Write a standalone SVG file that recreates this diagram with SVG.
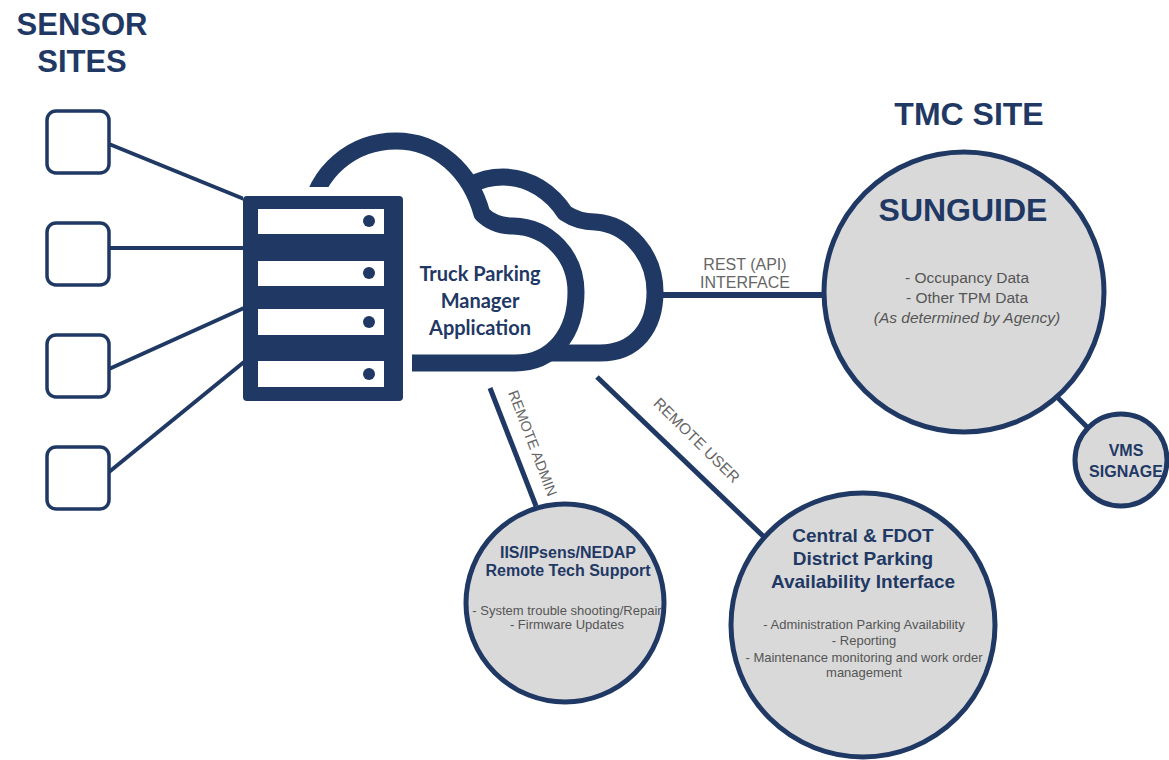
<svg xmlns="http://www.w3.org/2000/svg" width="1169" height="760" viewBox="0 0 1169 760">
<style>
.nv{fill:#1f3864}
.ln{stroke:#1f3864;fill:none;stroke-linecap:butt}
.box{fill:#fff;stroke:#1f3864;stroke-width:3.5}
.circ{fill:#d9d9d9;stroke:#1f3864;stroke-width:5}
.title{font-family:"Liberation Sans",Arial,sans-serif;font-weight:bold;fill:#1f3864;text-anchor:middle}
.lab{font-family:"Liberation Sans",Arial,sans-serif;fill:#666;text-anchor:middle}
.bul{font-family:"Liberation Sans",Arial,sans-serif;fill:#555;text-anchor:middle}
.cal{font-family:Lato,"Open Sans",sans-serif;font-weight:bold;fill:#1f3864;text-anchor:middle}
.cloud{fill:#fff;stroke:#1f3864;stroke-width:17;stroke-linejoin:round}
</style>

<text class="title" x="82" y="35" font-size="31">SENSOR</text>
<text class="title" x="82" y="72" font-size="31">SITES</text>
<text class="title" x="969" y="125" font-size="32">TMC SITE</text>

<g id="connectors">
  <line class="ln" stroke-width="4" x1="109" y1="144" x2="244" y2="199"/>
  <line class="ln" stroke-width="4" x1="109" y1="248" x2="244" y2="248"/>
  <line class="ln" stroke-width="4" x1="109" y1="369" x2="244" y2="308"/>
  <line class="ln" stroke-width="4" x1="109" y1="472" x2="244" y2="362"/>
  <line class="ln" stroke-width="6" x1="660" y1="295" x2="824" y2="295"/>
  <line class="ln" stroke-width="5" x1="1058" y1="398" x2="1089" y2="429"/>
  <line class="ln" stroke-width="5" x1="490" y1="388" x2="536" y2="506"/>
  <line class="ln" stroke-width="5" x1="597" y1="377" x2="764" y2="537"/>
  <text class="lab" font-size="16" x="745" y="270">REST (API)</text>
  <text class="lab" font-size="16" x="745" y="288">INTERFACE</text>
  <text class="lab" font-size="14.5" transform="translate(528,445) rotate(69)">REMOTE ADMIN</text>
  <text class="lab" font-size="15.5" transform="translate(693,444) rotate(44.5)">REMOTE USER</text>
</g>

<g id="sensor1"><rect class="box" x="47" y="111" width="62" height="62" rx="9"/></g>
<g id="sensor2"><rect class="box" x="47" y="223" width="62" height="62" rx="9"/></g>
<g id="sensor3"><rect class="box" x="47" y="335" width="62" height="62" rx="9"/></g>
<g id="sensor4"><rect class="box" x="47" y="447" width="62" height="62" rx="9"/></g>

<g id="cloud">
  <path class="cloud" d="M500 353 L600 353 C636 353 655 327 655 292 C655 255 628 224 595 222 C583 222 574 219 565 213 C552 193 530 177 503 177 C478 177 458 190 450 205 L450 353 Z"/>
  <path class="cloud" d="M300 363 L515 363 C553 363 576 333 576 292 C576 256 549 227 513 226 C500 226 490 222 482 214 C470 170 437 141 396 141 C352 141 316 172 310 215 L305 363 Z"/>
  <text class="cal" font-size="20" x="480" y="281">Truck Parking</text>
  <text class="cal" font-size="20" x="480" y="308">Manager</text>
  <text class="cal" font-size="20" x="480" y="335">Application</text>
</g>

<g id="server">
  <rect x="243" y="187" width="169" height="218" fill="#fff"/>
  <rect class="nv" x="243" y="196" width="160" height="205" rx="4"/>
  <rect x="258" y="209" width="126" height="25" fill="#fff"/>
  <rect x="258" y="261" width="126" height="25" fill="#fff"/>
  <rect x="258" y="309" width="126" height="26" fill="#fff"/>
  <rect x="258" y="361" width="126" height="26" fill="#fff"/>
  <circle class="nv" cx="369" cy="221" r="6"/>
  <circle class="nv" cx="369" cy="273" r="6"/>
  <circle class="nv" cx="369" cy="322" r="6"/>
  <circle class="nv" cx="369" cy="374" r="6"/>
</g>

<g id="sunguide">
  <circle class="circ" cx="964" cy="292" r="140" stroke-width="6"/>
  <text class="title" x="963" y="221" font-size="32">SUNGUIDE</text>
  <text class="bul" font-size="15.5" x="967" y="283">- Occupancy Data</text>
  <text class="bul" font-size="15.5" x="967" y="303">- Other TPM Data</text>
  <text class="bul" font-size="15.5" x="967" y="323" font-style="italic">(As determined by Agency)</text>
</g>

<g id="vms">
  <circle class="circ" cx="1121" cy="460" r="46"/>
  <text class="title" x="1126" y="456" font-size="16">VMS</text>
  <text class="title" x="1126" y="477" font-size="16">SIGNAGE</text>
</g>

<g id="iis">
  <circle class="circ" cx="565" cy="603" r="99"/>
  <text class="title" x="568" y="558" font-size="16">IIS/IPsens/NEDAP</text>
  <text class="title" x="568" y="576" font-size="16">Remote Tech Support</text>
  <text class="bul" x="567" y="615" font-size="13">- System trouble shooting/Repair</text>
  <text class="bul" x="567" y="629" font-size="13">- Firmware Updates</text>
</g>

<g id="central">
  <circle class="circ" cx="863" cy="625" r="132"/>
  <text class="title" x="863" y="542" font-size="19">Central &amp; FDOT</text>
  <text class="title" x="863" y="565" font-size="19">District Parking</text>
  <text class="title" x="863" y="588" font-size="19">Availability Interface</text>
  <text class="bul" x="864" y="629" font-size="13">- Administration Parking Availability</text>
  <text class="bul" x="864" y="645" font-size="13">- Reporting</text>
  <text class="bul" x="864" y="662" font-size="13">- Maintenance monitoring and work order</text>
  <text class="bul" x="864" y="677" font-size="13">management</text>
</g>
</svg>
